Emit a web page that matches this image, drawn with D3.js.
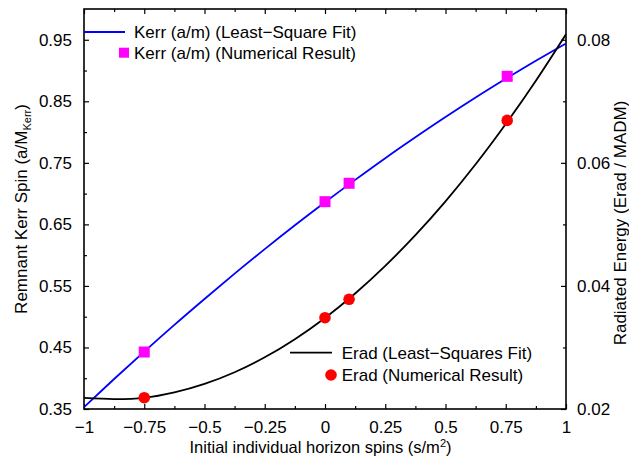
<!DOCTYPE html>
<html>
<head>
<meta charset="utf-8">
<script src="https://cdn.jsdelivr.net/npm/d3@7"></script>
<style>
  html, body { margin: 0; padding: 0; background: #fff; }
  svg { display: block; }
  text { font-family: "Liberation Sans", Arial, Helvetica, sans-serif; fill: #000; }
</style>
</head>
<body>
<svg id="chart" width="629" height="458"></svg>
<script>
// ---- data ----
const spins = [-0.75, 0, 0.1, 0.756];                      // initial individual horizon spins (s/m^2)
const kerrNumerical = [0.4426, 0.6869, 0.7168, 0.8906];    // remnant Kerr spin a/M_Kerr
const eradNumerical = [0.02184, 0.03484, 0.03783, 0.0669]; // radiated energy Erad/MADM

// least-squares fit curves
const fitX    = [-1, -0.875, -0.75, -0.625, -0.5, -0.375, -0.25, -0.125, 0, 0.125, 0.25, 0.375, 0.5, 0.625, 0.75, 0.875, 1];
const kerrFit = [0.353, 0.3987, 0.4433, 0.4867, 0.5288, 0.5699, 0.6098, 0.6485, 0.686, 0.7223, 0.7576, 0.7915, 0.8244, 0.8561, 0.8865, 0.9159, 0.944];
const eradFit = [0.0218, 0.02162, 0.02182, 0.0227, 0.02408, 0.02598, 0.0284, 0.03135, 0.0348, 0.03877, 0.04326, 0.04825, 0.05375, 0.05977, 0.06631, 0.07335, 0.0809];

const xTicks = [-1, -0.75, -0.5, -0.25, 0, 0.25, 0.5, 0.75, 1];
const xTickLabels = ["−1", "−0.75", "−0.5", "−0.25", "0", "0.25", "0.5", "0.75", "1"];
const xMinorTicks = [-0.875, -0.625, -0.375, -0.125, 0.125, 0.375, 0.625, 0.875];
const yLTicks = [0.35, 0.45, 0.55, 0.65, 0.75, 0.85, 0.95];
const yLMinorTicks = [0.4, 0.5, 0.6, 0.7, 0.8, 0.9];
const yRTicks = [0.02, 0.04, 0.06, 0.08];
const yRMinorTicks = [0.03, 0.05, 0.07];

const legendKerr = ["Kerr (a/m) (Least−Square Fit)", "Kerr (a/m) (Numerical Result)"];
const legendErad = ["Erad (Least−Squares Fit)", "Erad (Numerical Result)"];

// ---- layout ----
const L = 84, R = 566, T = 9, B = 409;
const svg = d3.select("#chart");

const x = d3.scaleLinear().domain([-1, 1]).range([L, R]);
const yL = d3.scaleLinear().domain([0.35, 1.0]).range([B, T]);
const yR = d3.scaleLinear().domain([0.02, 0.085]).range([B, T]);

const FS = 17;
const majorLen = 5, minorLen = 3;

svg.append("defs").append("clipPath").attr("id", "clip")
  .append("rect").attr("x", L).attr("y", T).attr("width", R - L).attr("height", B - T);

// ---- axes (ticks inward) ----
function styleAxis(g) {
  g.select(".domain").remove();
  g.selectAll(".tick line").attr("stroke", "#000").attr("stroke-width", 1.2);
  g.selectAll(".tick text").style("font-size", FS + "px");
}
// bottom
svg.append("g").attr("transform", `translate(0,${B})`)
  .call(d3.axisBottom(x).tickValues(xTicks).tickSize(-majorLen).tickPadding(12)
    .tickFormat((d, i) => xTickLabels[i]))
  .call(styleAxis);
svg.append("g").attr("transform", `translate(0,${B})`)
  .call(d3.axisBottom(x).tickValues(xMinorTicks).tickSize(-minorLen).tickFormat(""))
  .call(styleAxis);
// top (no labels)
svg.append("g").attr("transform", `translate(0,${T})`)
  .call(d3.axisTop(x).tickValues(xTicks).tickSize(-majorLen).tickFormat(""))
  .call(styleAxis);
svg.append("g").attr("transform", `translate(0,${T})`)
  .call(d3.axisTop(x).tickValues(xMinorTicks).tickSize(-minorLen).tickFormat(""))
  .call(styleAxis);
// left
svg.append("g").attr("transform", `translate(${L},0)`)
  .call(d3.axisLeft(yL).tickValues(yLTicks).tickSize(-majorLen).tickPadding(12)
    .tickFormat(d3.format(".2f")))
  .call(styleAxis);
svg.append("g").attr("transform", `translate(${L},0)`)
  .call(d3.axisLeft(yL).tickValues(yLMinorTicks).tickSize(-minorLen).tickFormat(""))
  .call(styleAxis);
// right
svg.append("g").attr("transform", `translate(${R},0)`)
  .call(d3.axisRight(yR).tickValues(yRTicks).tickSize(-majorLen).tickPadding(11)
    .tickFormat(d3.format(".2f")))
  .call(styleAxis);
svg.append("g").attr("transform", `translate(${R},0)`)
  .call(d3.axisRight(yR).tickValues(yRMinorTicks).tickSize(-minorLen).tickFormat(""))
  .call(styleAxis);

// frame
svg.append("rect").attr("x", L).attr("y", T).attr("width", R - L).attr("height", B - T)
  .attr("fill", "none").attr("stroke", "#000").attr("stroke-width", 1.6);

// ---- curves ----
const plot = svg.append("g").attr("clip-path", "url(#clip)");
const kerrLine = d3.line().x((d, i) => x(fitX[i])).y(d => yL(d)).curve(d3.curveCatmullRom);
const eradLine = d3.line().x((d, i) => x(fitX[i])).y(d => yR(d)).curve(d3.curveCatmullRom);

plot.append("path").datum(kerrFit).attr("d", kerrLine)
  .attr("fill", "none").attr("stroke", "#0000ff").attr("stroke-width", 1.8);
plot.append("path").datum(eradFit).attr("d", eradLine)
  .attr("fill", "none").attr("stroke", "#000").attr("stroke-width", 1.8);

// markers
const sq = 11;
svg.append("g").selectAll("rect").data(kerrNumerical).join("rect")
  .attr("x", (d, i) => x(spins[i]) - sq / 2).attr("y", d => yL(d) - sq / 2)
  .attr("width", sq).attr("height", sq).attr("fill", "#ff00ff");
svg.append("g").selectAll("circle").data(eradNumerical).join("circle")
  .attr("cx", (d, i) => x(spins[i])).attr("cy", d => yR(d)).attr("r", 5.8).attr("fill", "#ff0000");

// ---- legends ----
const lg1 = svg.append("g");
lg1.append("line").attr("x1", 84).attr("x2", 125).attr("y1", 32).attr("y2", 32)
  .attr("stroke", "#0000ff").attr("stroke-width", 1.8);
lg1.append("rect").attr("x", 124 - 5).attr("y", 52.7 - 5).attr("width", 10).attr("height", 10).attr("fill", "#ff00ff");
lg1.selectAll("text").data(legendKerr).join("text")
  .attr("x", 134).attr("y", (d, i) => [32, 52.7][i]).attr("dy", "0.35em")
  .style("font-size", FS + "px").text(d => d);

const lg2 = svg.append("g");
lg2.append("line").attr("x1", 290).attr("x2", 332).attr("y1", 352.7).attr("y2", 352.7)
  .attr("stroke", "#000").attr("stroke-width", 1.8);
lg2.append("circle").attr("cx", 331).attr("cy", 375).attr("r", 5.8).attr("fill", "#ff0000");
lg2.selectAll("text").data(legendErad).join("text")
  .attr("x", 341.7).attr("y", (d, i) => [352.7, 375][i]).attr("dy", "0.35em")
  .style("font-size", FS + "px").text(d => d);

// ---- axis titles ----
const xt = svg.append("text").attr("x", 320.5).attr("y", 452.5).attr("text-anchor", "middle")
  .style("font-size", "16.5px");
xt.append("tspan").text("Initial individual horizon spins (s/m");
xt.append("tspan").attr("baseline-shift", "6").style("font-size", "11px").text("2");
xt.append("tspan").text(")");

const ylt = svg.append("text").attr("transform", "translate(27,209) rotate(-90)")
  .attr("text-anchor", "middle").style("font-size", FS + "px");
ylt.append("tspan").text("Remnant Kerr Spin (a/M");
ylt.append("tspan").attr("baseline-shift", "-4").style("font-size", "11px").text("Kerr");
ylt.append("tspan").text(")");

svg.append("text").attr("transform", "translate(626,223) rotate(-90)")
  .attr("text-anchor", "middle").style("font-size", FS + "px")
  .text("Radiated Energy (Erad / MADM)");
</script>
</body>
</html>
